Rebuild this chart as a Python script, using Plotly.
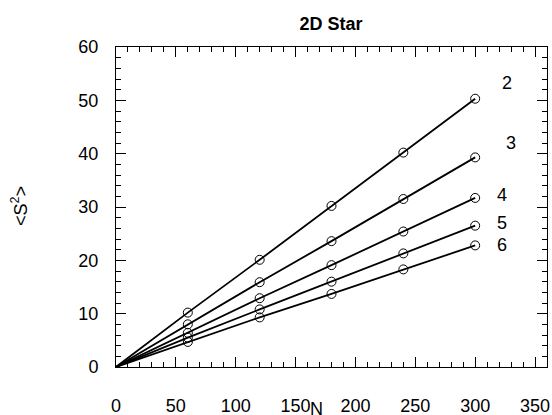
import plotly.graph_objects as go

N = [60, 120, 180, 240, 300]
arms = ["2", "3", "4", "5", "6"]
s2_arm2 = [10.2, 20.1, 30.2, 40.2, 50.3]
s2_arm3 = [8.0, 15.9, 23.6, 31.5, 39.3]
s2_arm4 = [6.4, 12.9, 19.1, 25.4, 31.7]
s2_arm5 = [5.5, 10.8, 16.0, 21.3, 26.5]
s2_arm6 = [4.7, 9.3, 13.7, 18.3, 22.8]
series = [s2_arm2, s2_arm3, s2_arm4, s2_arm5, s2_arm6]
label_x = [327, 330, 322, 322, 322]
label_y = [53.3, 42.0, 32.3, 27.0, 22.9]

fig = go.Figure()
for vals in series:
    fig.add_trace(go.Scatter(x=[0] + N, y=[0] + vals, mode="lines",
                             line=dict(color="black", width=1.8), showlegend=False,
                             hoverinfo="skip", cliponaxis=False))
    fig.add_trace(go.Scatter(x=N, y=vals, mode="markers",
                             marker=dict(symbol="circle-open", size=9, color="black",
                                         line=dict(width=1, color="black")),
                             showlegend=False, cliponaxis=False))

font = "Liberation Sans, Arial, sans-serif"
for name, lx, ly in zip(arms, label_x, label_y):
    fig.add_annotation(x=lx, y=ly, text=name, showarrow=False,
                       font=dict(size=18, color="black", family=font),
                       xanchor="center", yanchor="middle")

L, R, T, B, W, H = 116, 5, 47, 48, 552, 415
pw, ph = W - L - R, H - T - B

# axis titles placed as annotations in paper coordinates
fig.add_annotation(xref="paper", yref="paper", x=(316 - L) / pw, y=-(409 - (H - B)) / ph,
                   text="N", showarrow=False, xanchor="center", yanchor="middle",
                   font=dict(size=18, color="black", family=font))
fig.add_annotation(xref="paper", yref="paper", x=-(L - 19) / pw, y=(H - B - 206) / ph,
                   text="&lt;S<sup>2</sup>&gt;", showarrow=False, textangle=-90,
                   xanchor="center", yanchor="middle",
                   font=dict(size=18, color="black", family=font))

axis_common = dict(showline=True, linecolor="black", linewidth=1, mirror="ticks",
                   ticks="inside", tickcolor="black", ticklen=10, tickwidth=1,
                   showgrid=False, zeroline=False, automargin=False,
                   tickfont=dict(size=18, color="black", family=font))

fig.update_xaxes(range=[0, 360], dtick=50, tick0=0,
                 minor=dict(ticks="inside", dtick=10, ticklen=5, tickcolor="black", showgrid=False),
                 ticklabelstandoff=22, **axis_common)
fig.update_yaxes(range=[0, 60], dtick=10, tick0=0,
                 minor=dict(ticks="inside", dtick=2, ticklen=5, tickcolor="black", showgrid=False),
                 ticklabelstandoff=13, **axis_common)

fig.update_layout(
    width=W, height=H,
    margin=dict(l=L, r=R, t=T, b=B),
    paper_bgcolor="white", plot_bgcolor="white",
    font=dict(family=font, color="black"),
    title=dict(text="<b>2D Star</b>", x=331 / W, xanchor="center",
               y=1 - 24 / H, yanchor="middle",
               font=dict(size=18, color="black", family=font)),
)

fig.write_html("out.html", config={"displayModeBar": False},
               post_script="document.body.style.margin='0';document.body.style.overflow='hidden';")
